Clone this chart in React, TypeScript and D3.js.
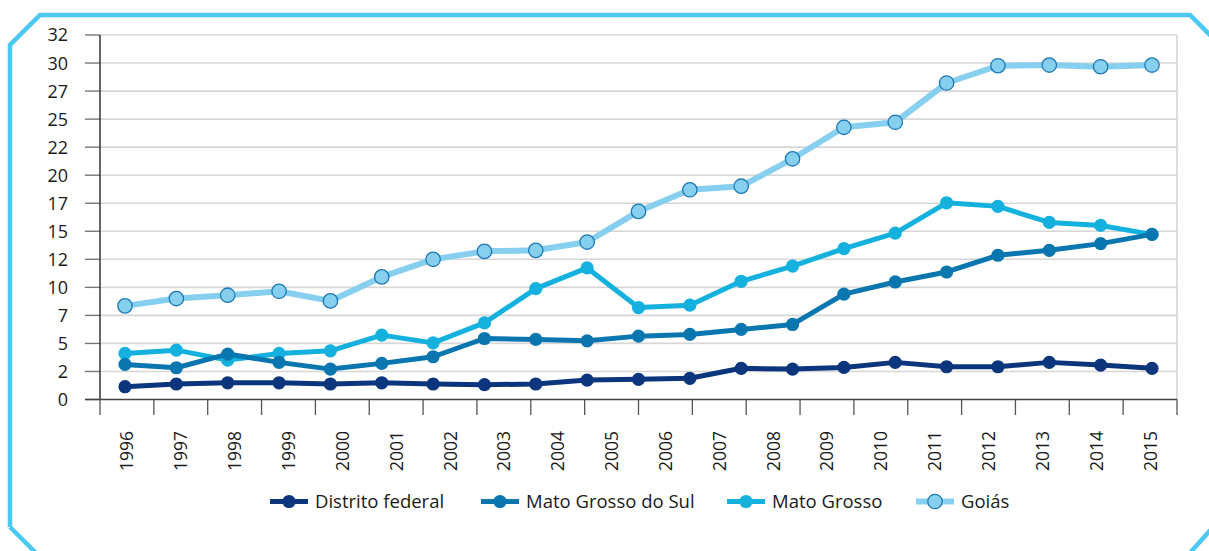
import React, { useEffect, useRef } from "react";
import * as d3 from "d3";

// years on the category axis
const years = ["1996", "1997", "1998", "1999", "2000", "2001", "2002", "2003", "2004", "2005",
  "2006", "2007", "2008", "2009", "2010", "2011", "2012", "2013", "2014", "2015"];

// the original plots 21 points per series across the 20 year slots
const distritoFederal = [1.14, 1.38, 1.49, 1.49, 1.38, 1.49, 1.38, 1.32, 1.38, 1.73, 1.80,
  1.89, 2.78, 2.71, 2.86, 3.31, 2.92, 2.92, 3.31, 3.07, 2.78];
const matoGrossoDoSul = [3.13, 2.83, 4.05, 3.31, 2.71, 3.22, 3.81, 5.44, 5.36, 5.23, 5.65,
  5.80, 6.25, 6.69, 9.39, 10.48, 11.37, 12.86, 13.30, 13.90, 14.72];
const matoGrosso = [4.11, 4.40, 3.51, 4.11, 4.34, 5.74, 5.05, 6.83, 9.89, 11.73, 8.20,
  8.41, 10.54, 11.90, 13.45, 14.84, 17.54, 17.22, 15.79, 15.52, 14.72];
const goias = [8.35, 9.00, 9.30, 9.65, 8.79, 10.93, 12.50, 13.21, 13.30, 14.04, 16.77,
  18.70, 19.02, 21.46, 24.27, 24.72, 28.22, 29.76, 29.82, 29.67, 29.82];

const seriesNames = ["Distrito federal", "Mato Grosso do Sul", "Mato Grosso", "Goiás"];
const yTicks = d3.range(0, 33, 2.5);

export default function App() {
  const ref = useRef<SVGSVGElement>(null);

  useEffect(() => {
    const width = 1209, height = 551;
    const left = 100, right = 1177, top = 35, bottom = 399.5;
    const font = "'Open Sans', 'Noto Sans', sans-serif";
    const textColor = "#1a1a1a";

    const svg = d3.select(ref.current);
    svg.selectAll("*").remove();
    svg.attr("width", width).attr("height", height);

    // frame with cut corners
    svg.append("path")
      .attr("d", "M10,527 L10,45 L40,15 L1190,15 L1230,55 L1230,508 L1180,564 L47,564 L10,527")
      .attr("fill", "none")
      .attr("stroke", "#4cc9f0")
      .attr("stroke-width", 4.5)
      .attr("stroke-linejoin", "miter");

    const y = d3.scaleLinear().domain([0, 32.5]).range([bottom, top]);
    const xBand = d3.scaleBand().domain(years).range([left, right]);
    const xPt = d3.scalePoint<number>().domain(d3.range(distritoFederal.length)).range([125, 1152]);

    // gridlines
    svg.append("g").selectAll("line")
      .data(yTicks.filter(d => d > 0))
      .enter().append("line")
      .attr("x1", left).attr("x2", right)
      .attr("y1", d => y(d)).attr("y2", d => y(d))
      .attr("stroke", "#d6d6d6").attr("stroke-width", 1.6);

    // right border of plot
    svg.append("line")
      .attr("x1", right).attr("x2", right).attr("y1", top).attr("y2", bottom)
      .attr("stroke", "#c8c8c8").attr("stroke-width", 1.2);

    // y ticks + labels
    const yg = svg.append("g");
    yg.selectAll("line")
      .data(yTicks)
      .enter().append("line")
      .attr("x1", 85).attr("x2", left)
      .attr("y1", d => y(d)).attr("y2", d => y(d))
      .attr("stroke", "#777").attr("stroke-width", 1.4);
    yg.selectAll("text")
      .data(yTicks)
      .enter().append("text")
      .attr("x", 68).attr("y", d => y(d))
      .attr("dy", "0.36em")
      .attr("text-anchor", "end")
      .style("font-family", font).style("font-size", "18px")
      .attr("fill", textColor)
      .text(d => String(Math.floor(d)));

    // x ticks at band edges
    const edges = years.map(d => xBand(d) as number).concat([right]);
    svg.append("g").selectAll("line")
      .data(edges)
      .enter().append("line")
      .attr("x1", d => d).attr("x2", d => d)
      .attr("y1", bottom).attr("y2", 415)
      .attr("stroke", "#555").attr("stroke-width", 1.3);

    // axis lines
    svg.append("line").attr("x1", left).attr("x2", left).attr("y1", top).attr("y2", bottom)
      .attr("stroke", "#333").attr("stroke-width", 1.5);
    svg.append("line").attr("x1", 85).attr("x2", right).attr("y1", bottom).attr("y2", bottom)
      .attr("stroke", "#444").attr("stroke-width", 1.5);

    // year labels, rotated
    svg.append("g").selectAll("text")
      .data(years)
      .enter().append("text")
      .attr("transform", d => `translate(${(xBand(d) as number) + xBand.bandwidth() / 2 + 6.5},431) rotate(-90)`)
      .attr("text-anchor", "end")
      .style("font-family", font).style("font-size", "17.5px")
      .attr("fill", textColor)
      .text(d => d);

    const colors = ["#0b357c", "#0a76b0", "#14b1de", "#87cfee"];
    const widths = [5, 5, 5, 6];
    const allSeries = [distritoFederal, matoGrossoDoSul, matoGrosso, goias];
    const line = d3.line<number>().x((d, i) => xPt(i) as number).y(d => y(d));

    // draw from the back: Goiás first
    [3, 2, 1, 0].forEach(si => {
      const g = svg.append("g");
      g.append("path")
        .attr("d", line(allSeries[si]) as string)
        .attr("fill", "none")
        .attr("stroke", colors[si])
        .attr("stroke-width", widths[si])
        .attr("stroke-linejoin", "round");
      g.selectAll("circle")
        .data(allSeries[si])
        .enter().append("circle")
        .attr("cx", (d, i) => xPt(i) as number)
        .attr("cy", d => y(d))
        .attr("r", si === 3 ? 7.2 : 6.6)
        .attr("fill", colors[si])
        .attr("stroke", si === 3 ? "#1b78b6" : "none")
        .attr("stroke-width", 1.3);
    });

    // legend
    const legendX = [270, 481, 727, 916];
    const legendY = 501.5;
    const lg = svg.append("g");
    seriesNames.forEach((name, i) => {
      const x0 = legendX[i];
      lg.append("line")
        .attr("x1", x0).attr("x2", x0 + 38)
        .attr("y1", legendY).attr("y2", legendY)
        .attr("stroke", colors[i]).attr("stroke-width", widths[i]);
      lg.append("circle")
        .attr("cx", x0 + 19).attr("cy", legendY)
        .attr("r", i === 3 ? 7.2 : 6.6)
        .attr("fill", colors[i])
        .attr("stroke", i === 3 ? "#1b78b6" : "none")
        .attr("stroke-width", 1.3);
      lg.append("text")
        .attr("x", x0 + 45).attr("y", legendY)
        .attr("dy", "0.36em")
        .style("font-family", font).style("font-size", "18.5px")
        .attr("fill", textColor)
        .text(name);
    });
  }, []);

  return (
    <svg ref={ref} style={{ position: "absolute", left: 0, top: 0, background: "#fff" }} />
  );
}
